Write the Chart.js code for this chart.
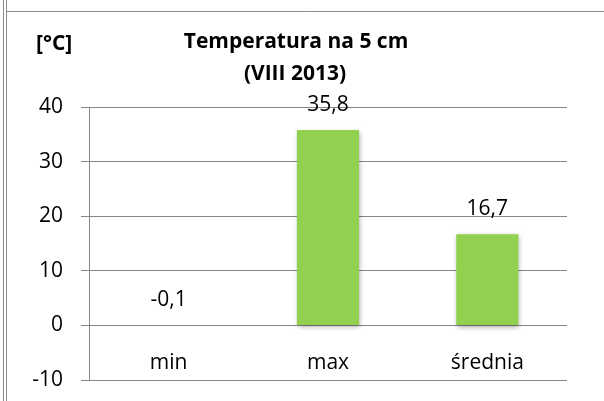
<!DOCTYPE html>
<html>
<head>
<meta charset="utf-8">
<script src="https://cdn.jsdelivr.net/npm/chart.js@4.4.0/dist/chart.umd.min.js"></script>
<style>
  html, body { margin: 0; padding: 0; background: #fff; }
  #wrap { width: 604px; height: 401px; }
</style>
</head>
<body>
<div id="wrap"><canvas id="chart" width="604" height="401"></canvas></div>
<script>
const categories = ['min', 'max', 'średnia'];
const values = [-0.1, 35.8, 16.7];
const titleLines = ['Temperatura na 5 cm', '(VIII 2013)'];
const unitLabel = '[°C]';
const yMin = -10, yMax = 40, yStep = 10;

const FONT = '"Open Sans", Lato, sans-serif';
const gridGray = '#868686';

// frame, title, unit and value labels
const decorPlugin = {
    id: 'decor',
    beforeDraw(chart) {
        const ctx = chart.ctx;
        ctx.save();
        ctx.fillStyle = '#fff';
        ctx.fillRect(0, 0, chart.width, chart.height);
        ctx.strokeStyle = '#8c8c8c';
        ctx.lineWidth = 1;
        ctx.beginPath();
        ctx.moveTo(3.5, 0); ctx.lineTo(3.5, chart.height);
        ctx.moveTo(6.5, 0); ctx.lineTo(6.5, chart.height);
        ctx.moveTo(6.5, 11.5); ctx.lineTo(chart.width, 11.5);
        ctx.stroke();
        ctx.restore();
    },
    beforeDatasetsDraw(chart) {
        const ctx = chart.ctx;
        ctx.save();
        ctx.shadowColor = 'rgba(0,0,0,0.35)';
        ctx.shadowBlur = 5;
        ctx.shadowOffsetX = 1;
        ctx.shadowOffsetY = 2;
    },
    afterDatasetsDraw(chart) {
        chart.ctx.restore();
        const ctx = chart.ctx;
        ctx.save();
        ctx.fillStyle = '#000';
        ctx.font = 'bold 21px ' + FONT;
        ctx.textAlign = 'center';
        ctx.textBaseline = 'middle';
        ctx.fillText(titleLines[0], 296, 42);
        ctx.fillText(titleLines[1], 295, 74);
        ctx.textAlign = 'left';
        ctx.fillText(unitLabel, 36, 44);

        ctx.font = '21px ' + FONT;
        ctx.textAlign = 'center';
        ctx.textBaseline = 'alphabetic';
        const meta = chart.getDatasetMeta(0);
        const yScale = chart.scales.y;
        meta.data.forEach((bar, i) => {
            const top = Math.min(bar.y, yScale.getPixelForValue(0));
            ctx.fillText(values[i].toFixed(1).replace('.', ','), bar.x, top - 19);
        });
        ctx.restore();
    }
};

new Chart(document.getElementById('chart'), {
    type: 'bar',
    data: {
        labels: categories,
        datasets: [{
            data: values,
            backgroundColor: '#92d050',
            borderWidth: 0,
            barPercentage: 0.39,
            categoryPercentage: 1.0
        }]
    },
    options: {
        responsive: false,
        animation: false,
        devicePixelRatio: 1,
        layout: { padding: { left: 0, right: 37, top: 107, bottom: 21 } },
        plugins: {
            legend: { display: false },
            title: { display: false },
            tooltip: { enabled: false }
        },
        scales: {
            x: {
                position: { y: 0 },
                afterFit(scale) { scale.height = 0; scale.paddingLeft = 0; scale.paddingRight = 0; },
                grid: { display: false },
                border: { display: false },
                ticks: { color: '#000', font: { family: FONT, size: 21 }, padding: 17 }
            },
            y: {
                min: yMin,
                max: yMax,
                afterFit(scale) { scale.width = 89; scale.paddingTop = 0; scale.paddingBottom = 0; },
                grid: { color: gridGray, lineWidth: 1, tickLength: 8, drawTicks: true },
                border: { display: true, color: gridGray, width: 1 },
                ticks: { stepSize: yStep, color: '#000', font: { family: FONT, size: 21 }, padding: 18 }
            }
        }
    },
    plugins: [decorPlugin]
});
</script>
</body>
</html>
